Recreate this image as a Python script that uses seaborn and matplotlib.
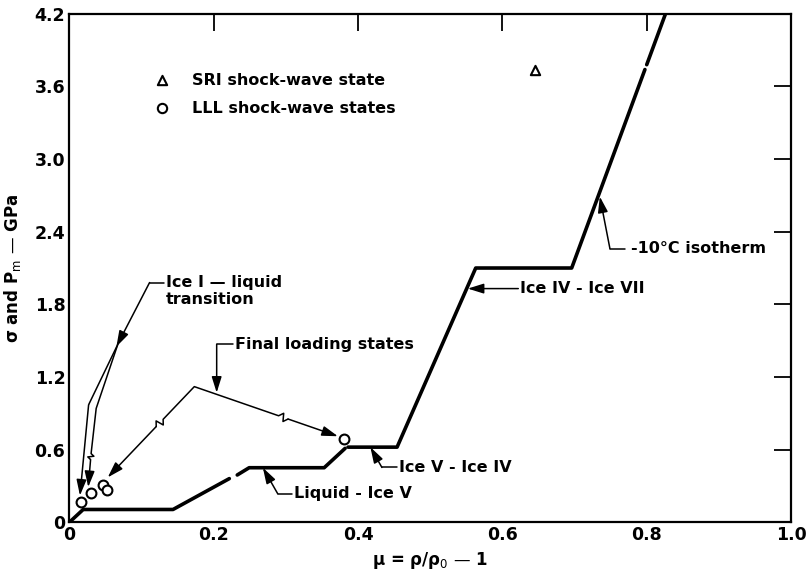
import numpy as np
import pandas as pd
import matplotlib
matplotlib.use("Agg")
import matplotlib.pyplot as plt
import seaborn as sns

# -10 C isotherm (mu, stress in GPa); segment ids mark the small breaks in the drawn curve
iso_mu = [0.0, 0.019, 0.1435, 0.2215, 0.2325, 0.249, 0.353, 0.382, 0.386, 0.454, 0.563, 0.696, 0.7975, 0.800, 0.826]
iso_p = [0.0, 0.105, 0.105, 0.36, 0.39, 0.45, 0.45, 0.61, 0.62, 0.62, 2.10, 2.10, 3.74, 3.78, 4.20]
iso_seg = [0, 0, 0, 0, 1, 1, 1, 1, 2, 2, 2, 2, 2, 3, 3]

# Ice I -> liquid transition loading paths
path1_mu = [0.067, 0.0265, 0.0145]
path1_p = [1.47, 0.97, 0.22]
path2_mu = [0.067, 0.037, 0.030, 0.026]
path2_p = [1.47, 0.94, 0.57, 0.29]

# Shock-wave states
lll_mu = [0.0155, 0.030, 0.046, 0.052, 0.381]
lll_p = [0.17, 0.24, 0.31, 0.265, 0.69]
sri_mu = [0.645]
sri_p = [3.74]

# Final loading state path: left arrow end, apex, right arrow end
final_mu = [0.053, 0.173, 0.372]
final_p = [0.37, 1.12, 0.71]

x_ticks = [0.0, 0.2, 0.4, 0.6, 0.8, 1.0]
x_labels = ["0", "0.2", "0.4", "0.6", "0.8", "1.0"]
y_ticks = [0.0, 0.6, 1.2, 1.8, 2.4, 3.0, 3.6, 4.2]
y_labels = ["0", "0.6", "1.2", "1.8", "2.4", "3.0", "3.6", "4.2"]

sns.set_theme(style="white")
plt.rcParams["font.family"] = ["DejaVu Sans"]
plt.rcParams["mathtext.fontset"] = "dejavusans"
plt.rcParams["text.color"] = "black"
plt.rcParams["axes.labelcolor"] = "black"

fig, ax = plt.subplots(figsize=(8.08, 5.77), dpi=100)
fig.subplots_adjust(left=0.086, right=0.979, bottom=0.095, top=0.976)
ax.set_xlim(0, 1.0)
ax.set_ylim(0, 4.2)

# pixel scale of the axes, used to lay out break marks
SX, SY = 722.0, 121.0

iso = pd.DataFrame({"mu": iso_mu, "p": iso_p, "seg": iso_seg})
sns.lineplot(data=iso, x="mu", y="p", units="seg", estimator=None, sort=False,
             color="black", linewidth=2.6, ax=ax, legend=False)

ARROW = dict(arrowstyle="-|>,head_length=0.8,head_width=0.25",
             color="black", lw=1.1, shrinkA=0, shrinkB=0)


def with_break(xs, ys, i, t, size=5.0, jog=4.0):
    """Insert a small zig-zag break mark on segment i at fraction t."""
    x0, y0, x1, y1 = xs[i], ys[i], xs[i + 1], ys[i + 1]
    dx, dy = (x1 - x0) * SX, (y1 - y0) * SY
    L = np.hypot(dx, dy)
    ux, uy = dx / L, dy / L
    nx, ny = -uy, ux
    bx, by = x0 + (x1 - x0) * t, y0 + (y1 - y0) * t
    pts = [(-size, 0), (-size * 0.2, jog), (size * 0.2, -jog), (size, 0)]
    zx = [bx + (a * ux + b * nx) / SX for a, b in pts]
    zy = [by + (a * uy + b * ny) / SY for a, b in pts]
    return (list(xs[: i + 1]) + zx + list(xs[i + 1:]),
            list(ys[: i + 1]) + zy + list(ys[i + 1:]))


def arrow_path(xs, ys, lw=1.1):
    ax.plot(xs[:-1], ys[:-1], color="black", linewidth=lw, solid_capstyle="butt")
    ax.annotate("", xy=(xs[-1], ys[-1]), xytext=(xs[-2], ys[-2]), arrowprops=ARROW)


# transition loading paths
arrow_path(path1_mu, path1_p)
p2x, p2y = with_break(path2_mu, path2_p, 2, 0.1, size=3, jog=3)
arrow_path(p2x, p2y)

# final loading state path with break marks on both branches
fx, fy = with_break(final_mu, final_p, 1, 0.62)
fx, fy = with_break(fx, fy, 0, 0.6)
ax.plot(fx[1:-1], fy[1:-1], color="black", linewidth=1.1)
ax.annotate("", xy=(fx[0], fy[0]), xytext=(fx[1], fy[1]), arrowprops=ARROW)
ax.annotate("", xy=(fx[-1], fy[-1]), xytext=(fx[-2], fy[-2]), arrowprops=ARROW)

# data points
sns.scatterplot(x=lll_mu, y=lll_p, marker="o", s=50, facecolor="white",
                edgecolor="black", linewidth=1.5, ax=ax, zorder=5)
sns.scatterplot(x=sri_mu, y=sri_p, marker="^", s=45, facecolor="white",
                edgecolor="black", linewidth=1.5, ax=ax, zorder=5)

# key
ax.scatter([0.128], [3.65], marker="^", s=45, facecolor="white", edgecolor="black", linewidth=1.5)
ax.scatter([0.128], [3.42], marker="o", s=45, facecolor="white", edgecolor="black", linewidth=1.5)
tkw = dict(fontsize=11.5, fontweight="bold", color="black", va="center", ha="left")
ax.text(0.170, 3.65, "SRI shock-wave state", **tkw)
ax.text(0.170, 3.42, "LLL shock-wave states", **tkw)


def leader(points, text_xy, text):
    xs = [p[0] for p in points]
    ys = [p[1] for p in points]
    ax.plot(xs[1:], ys[1:], color="black", linewidth=1.1)
    ax.annotate("", xy=(xs[0], ys[0]), xytext=(xs[1], ys[1]), arrowprops=ARROW)
    ax.text(text_xy[0], text_xy[1], text, **tkw)


leader([(0.065, 1.45), (0.111, 1.98), (0.131, 1.98)], (0.134, 1.91),
       "Ice I \u2014 liquid\ntransition")
leader([(0.204, 1.07), (0.204, 1.47), (0.226, 1.47)], (0.229, 1.47), "Final loading states")
leader([(0.268, 0.45), (0.2886, 0.235), (0.309, 0.235)], (0.311, 0.235), "Liquid - Ice V")
leader([(0.417, 0.62), (0.433, 0.452), (0.454, 0.452)], (0.456, 0.452), "Ice V - Ice IV")
leader([(0.552, 1.93), (0.622, 1.93)], (0.625, 1.93), "Ice IV - Ice VII")
leader([(0.735, 2.69), (0.749, 2.26), (0.770, 2.26)], (0.778, 2.26), "-10\u00b0C isotherm")

ax.set_xticks(x_ticks)
ax.set_xticklabels(x_labels)
ax.set_yticks(y_ticks)
ax.set_yticklabels(y_labels)
ax.tick_params(direction="in", length=12, width=1.3, top=True, right=True,
               labelsize=12.5, pad=3, colors="black")
for lab in ax.get_xticklabels() + ax.get_yticklabels():
    lab.set_fontweight("bold")
for sp in ax.spines.values():
    sp.set_linewidth(1.6)
    sp.set_color("black")

ax.set_xlabel("\u03bc = \u03c1/\u03c1$_0$ \u2014 1", fontsize=12, fontweight="bold",
              labelpad=4, color="black")
ax.set_ylabel("\u03c3 and P$_{\\rm m}$ \u2014 GPa", fontsize=12, fontweight="bold",
              labelpad=8, color="black")

fig.savefig("out.png", dpi=100, facecolor="white")
